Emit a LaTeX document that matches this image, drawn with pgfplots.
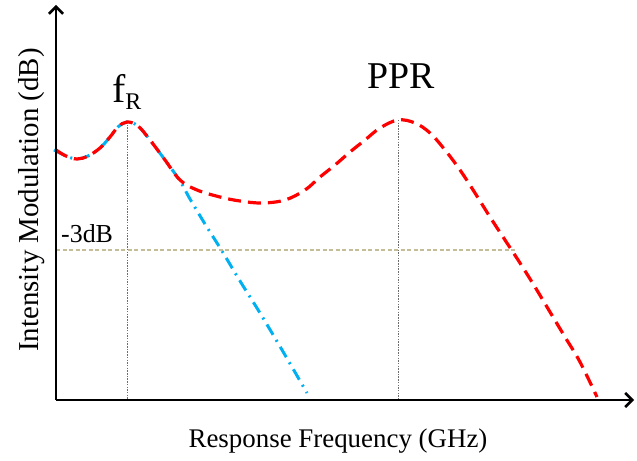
\documentclass[border=0pt]{standalone}
\usepackage{pgfplots}
\pgfplotsset{compat=1.18}
\usepackage{fontspec}
\setmainfont{Liberation Serif}
\usetikzlibrary{arrows.meta}
\definecolor{redc}{RGB}{255,0,0}
\definecolor{bluec}{RGB}{0,176,240}
\definecolor{tanc}{RGB}{196,189,151}
\definecolor{grayc}{RGB}{110,110,110}
\begin{document}
\begin{tikzpicture}
\useasboundingbox (0,0) rectangle (637bp,461bp);
\begin{axis}[
  at={(0,0)}, anchor=south west,
  scale only axis, width=637bp, height=461bp,
  xmin=0, xmax=637, ymin=0, ymax=461,
  hide axis, clip=false,
]
% reference lines
\addplot[grayc, line width=0.9bp, dash pattern=on 1.5bp off 1.2bp] coordinates {(127,339) (127,61)};
\addplot[grayc, line width=0.9bp, dash pattern=on 1.5bp off 1.2bp] coordinates {(398,341) (398,61)};
\addplot[tanc, line width=1.2bp, dash pattern=on 4bp off 2.5bp] coordinates {(56,211) (515,211)};
% blue curve
\addplot[bluec, line width=3bp, smooth, tension=0.6, dash pattern=on 12bp off 6bp on 2bp off 6bp] coordinates {
(54,311) (66,305) (77,302) (88,305) (100,313) (110,324) (118,334) (127,339) (138,335) (150,321) (165,301)
(180,280) (190,262) (205,237) (222,210) (240,180) (260,148) (285,106) (307,68)};
% red curve
\addplot[redc, line width=3.2bp, smooth, tension=0.6, dash pattern=on 13bp off 7bp] coordinates {
(56,311) (66,305) (77,302) (88,305) (100,313) (110,324) (118,334) (127,339) (138,335) (150,321) (165,301)
(180,281) (197,271) (220,264) (240,260) (262,258) (285,261) (305,271) (320,284) (335,296) (350,309)
(365,321) (380,333) (398,341) (415,338) (430,328) (445,311) (460,291) (475,268) (490,244) (505,221)
(520,198) (535,174) (550,149) (565,124) (580,99) (597,64)};
% axes
\draw[black, line width=2.6bp, -{Straight Barb[length=7bp, width=14bp, line width=2.6bp]}] (axis cs:56,61) -- (axis cs:634,61);
\draw[black, line width=2.6bp, -{Straight Barb[length=7bp, width=14bp, line width=2.6bp]}] (axis cs:56,61) -- (axis cs:56,456);
% labels
\node[anchor=base west, inner sep=0pt] at (axis cs:112,358) {\fontsize{40}{44}\selectfont f\raisebox{-7bp}{\fontsize{24}{26}\selectfont R}};
\node[anchor=base west, inner sep=0pt] at (axis cs:367,372) {\fontsize{38}{42}\selectfont PPR};
\node[anchor=base west, inner sep=0pt] at (axis cs:61,218) {\fontsize{26}{28}\selectfont -3dB};
\node[anchor=base, inner sep=0pt] at (axis cs:338,14) {\fontsize{27}{30}\selectfont Response Frequency (GHz)};
\node[anchor=base, inner sep=0pt, rotate=90] at (axis cs:38,261) {\fontsize{29}{32}\selectfont Intensity Modulation (dB)};
\end{axis}
\end{tikzpicture}
\end{document}
